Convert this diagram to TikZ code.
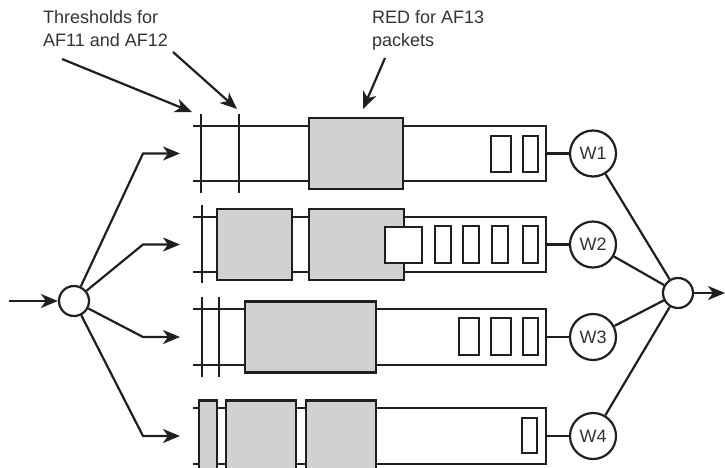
\documentclass[tikz,border=0pt]{standalone}
\usepackage{fontspec}
\setmainfont{Liberation Sans}
\usepackage{tikz}
\usetikzlibrary{arrows.meta, positioning, calc}

\begin{document}
\begin{tikzpicture}[
  x=1pt, y=-1pt,
  font=\fontsize{18}{23}\selectfont,
  ink/.style   ={draw=black!88, line width=2.2pt},
  queue/.style ={rectangle, minimum width=353pt, minimum height=55pt, inner sep=0pt},
  qline/.style ={ink},
  held/.style  ={rectangle, draw=black!88, line width=2.8pt, fill=gray!36,
                 minimum height=71pt, inner sep=0pt},
  pkt/.style   ={rectangle, draw=black!88, line width=2.5pt, fill=white, inner sep=0pt},
  thr/.style   ={ink},
  wrr/.style   ={circle, ink, minimum size=46pt, inner sep=0pt, text=black!80},
  hub/.style   ={circle, ink, minimum size=30pt, inner sep=0pt, fill=white},
  lbl/.style   ={align=left, anchor=north west, inner sep=0pt, text=black!80},
  arr/.style   ={-{Stealth[length=17pt, width=14pt, inset=5pt]}, ink},
  link/.style  ={ink},
]
\useasboundingbox (0,0) rectangle (725,467);

% --- Queues (open on the left) ---
\node[queue] (q1) at (369.5,153.5) {};
\node[queue] (q2) at (369.5,244.5) {};
\node[queue] (q3) at (369.5,337)   {};
\node[queue] (q4) at (369.5,436)   {};
\foreach \q in {q1,q2,q3,q4}
  \draw[qline] (\q.north west) -- (\q.north east) -- (\q.south east) -- (\q.south west);

% --- Threshold bars ---
\draw[thr] (201,114) -- (201,193);
\draw[thr] (239,114) -- (239,193);
\draw[thr] (202,205) -- (202,283);
\draw[thr] (202,297) -- (202,377);
\draw[thr] (219,297) -- (219,377);

% --- Held (RED) blocks ---
\node[held, minimum width=94pt]  (g11) at (356,153.5)   {};
\node[held, minimum width=75pt]  (g21) at (254.5,244.5) {};
\node[held, minimum width=95pt]  (g22) at (356.5,244.5) {};
\node[held, minimum width=131pt] (g31) at (310.5,337)   {};
\node[held, minimum width=18pt]  (g41) at (208,436)     {};
\node[held, minimum width=70pt]  (g42) at (261,436)     {};
\node[held, minimum width=70pt]  (g43) at (341,436)     {};

% --- Packets waiting ---
\node[pkt, minimum width=20pt, minimum height=36pt] (p11) at (501,154)     {};
\node[pkt, minimum width=15pt, minimum height=36pt] (p12) at (530.5,154)   {};
\node[pkt, minimum width=37pt, minimum height=36pt] (p21) at (403.5,245)   {};
\node[pkt, minimum width=16pt, minimum height=37pt] (p22) at (443,244.5)   {};
\node[pkt, minimum width=16pt, minimum height=37pt] (p23) at (471,244.5)   {};
\node[pkt, minimum width=16pt, minimum height=37pt] (p24) at (500,244.5)   {};
\node[pkt, minimum width=15pt, minimum height=37pt] (p25) at (530.5,244.5) {};
\node[pkt, minimum width=20pt, minimum height=37pt] (p31) at (469,336.5)   {};
\node[pkt, minimum width=20pt, minimum height=37pt] (p32) at (501,336.5)   {};
\node[pkt, minimum width=15pt, minimum height=37pt] (p33) at (530.5,336.5) {};
\node[pkt, minimum width=15pt, minimum height=35pt] (p41) at (529.5,435.5) {};

% --- Weights and output ---
\node[wrr] (w1) at (593,153.5) {W1};
\node[wrr] (w2) at (593,244.5) {W2};
\node[wrr] (w3) at (593,337)   {W3};
\node[wrr] (w4) at (593,436)   {W4};
\node[hub] (mux) at (678,293) {};
\coordinate (tx) at (725,293);

% --- Input and classifier ---
\coordinate (rx) at (9,301);
\node[hub] (cls) at (74,301) {};
\coordinate (k1) at (143,153.5); \coordinate (e1) at (180,153.5);
\coordinate (k2) at (143,244.5); \coordinate (e2) at (180,244.5);
\coordinate (k3) at (143,337);   \coordinate (e3) at (180,337);
\coordinate (k4) at (143,436);   \coordinate (e4) at (180,436);

% --- Arrows ---
\draw[arr] (rx) -- (cls);
\draw[arr] (cls) -- (k1) -- (e1);
\draw[arr] (cls) -- (k2) -- (e2);
\draw[arr] (cls) -- (k3) -- (e3);
\draw[arr] (cls) -- (k4) -- (e4);
\draw[link] (q1.east) -- (w1);
\draw[link] (q2.east) -- (w2);
\draw[link] (q3.east) -- (w3);
\draw[link] (q4.east) -- (w4);
\draw[link] (w1) -- (mux);
\draw[link] (w2) -- (mux);
\draw[link] (w3) -- (mux);
\draw[link] (w4) -- (mux);
\draw[arr] (mux) -- (tx);

% --- Callouts ---
\node[lbl] (thl) at (43,10)  {Thresholds for\\AF11 and AF12};
\node[lbl] (rdl) at (372,10) {RED for AF13\\packets};
\coordinate (t1) at (192,112);
\coordinate (t2) at (237,109);
\coordinate (t3) at (363,109);
\draw[arr] (62,59) -- (t1);
\draw[arr] (173,52) -- (t2);
\draw[arr] (385,58) -- (t3);
\end{tikzpicture}
\end{document}
